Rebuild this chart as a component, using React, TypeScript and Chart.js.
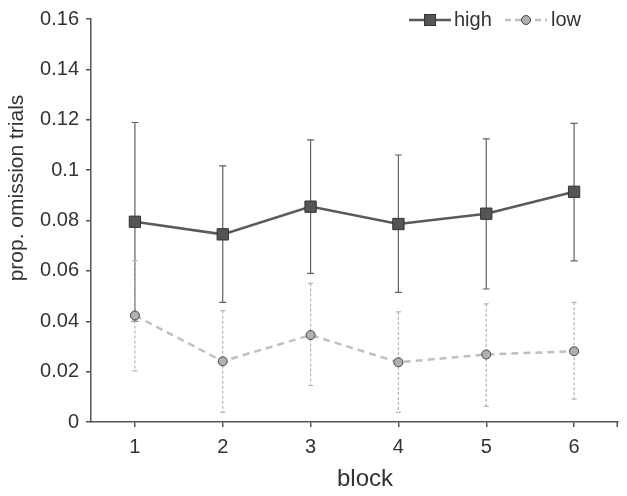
import React, { useEffect, useRef } from "react";
import { Chart, registerables } from "chart.js";

Chart.register(...registerables);

const blocks = ["1", "2", "3", "4", "5", "6"];
const highMean = [0.0795, 0.0745, 0.0855, 0.0786, 0.0827, 0.0914];
const highUpper = [0.1189, 0.1017, 0.112, 0.106, 0.1124, 0.1186];
const highLower = [0.040, 0.0475, 0.059, 0.0515, 0.0528, 0.064];
const lowMean = [0.0423, 0.0241, 0.0345, 0.0237, 0.0268, 0.0281];
const lowUpper = [0.0641, 0.0442, 0.055, 0.0437, 0.0469, 0.0475];
const lowLower = [0.0203, 0.0038, 0.0145, 0.0038, 0.0062, 0.0091];
const yTicks = [0, 0.02, 0.04, 0.06, 0.08, 0.1, 0.12, 0.14, 0.16];

const FONT = "'Liberation Sans', Arial, sans-serif";

export default function App() {
  const ref = useRef<HTMLCanvasElement | null>(null);

  useEffect(() => {
    if (!ref.current) return;

    const errorBars = {
      id: "errorBars",
      beforeDatasetsDraw(chart: any) {
        const ctx = chart.ctx;
        const ys = chart.scales.y;
        const sets = [
          { idx: 0, up: highUpper, lo: highLower, color: "#606060", dash: [] as number[], cap: 3.5 },
          { idx: 1, up: lowUpper, lo: lowLower, color: "#b5b5b5", dash: [3, 2], cap: 2.5 },
        ];
        ctx.save();
        for (const s of sets) {
          const meta = chart.getDatasetMeta(s.idx);
          ctx.strokeStyle = s.color;
          ctx.lineWidth = 1.2;
          meta.data.forEach((pt: any, j: number) => {
            const x = pt.x;
            const yu = ys.getPixelForValue(s.up[j]);
            const yl = ys.getPixelForValue(s.lo[j]);
            ctx.setLineDash(s.dash);
            ctx.beginPath();
            ctx.moveTo(x, yu);
            ctx.lineTo(x, yl);
            ctx.stroke();
            ctx.setLineDash([]);
            ctx.beginPath();
            ctx.moveTo(x - s.cap, yu);
            ctx.lineTo(x + s.cap, yu);
            ctx.moveTo(x - s.cap, yl);
            ctx.lineTo(x + s.cap, yl);
            ctx.stroke();
          });
        }
        ctx.restore();
      },
    };

    const extras = {
      id: "extras",
      afterDraw(chart: any) {
        const ctx = chart.ctx;
        const area = chart.chartArea;
        ctx.save();
        // right-end x tick
        ctx.strokeStyle = "#555";
        ctx.lineWidth = 1.5;
        ctx.beginPath();
        ctx.moveTo(area.right - 0.75, area.bottom);
        ctx.lineTo(area.right - 0.75, area.bottom + 5);
        ctx.stroke();

        // axis titles
        ctx.fillStyle = "#333";
        ctx.font = `24px ${FONT}`;
        ctx.textAlign = "center";
        ctx.textBaseline = "middle";
        ctx.fillText("block", 365, 479);
        ctx.font = `21px ${FONT}`;
        ctx.save();
        ctx.translate(17, 188);
        ctx.rotate(-Math.PI / 2);
        ctx.fillText("prop. omission trials", 0, 0);
        ctx.restore();

        // legend
        const ly = 20;
        ctx.lineWidth = 2.5;
        ctx.strokeStyle = "#5a5a5a";
        ctx.beginPath();
        ctx.moveTo(409, ly);
        ctx.lineTo(451, ly);
        ctx.stroke();
        ctx.fillStyle = "#555";
        ctx.strokeStyle = "#333";
        ctx.lineWidth = 1;
        ctx.fillRect(424.5, ly - 5.5, 11, 11);
        ctx.strokeRect(424.5, ly - 5.5, 11, 11);

        ctx.setLineDash([6, 4]);
        ctx.lineWidth = 2.5;
        ctx.strokeStyle = "#c0c0c0";
        ctx.beginPath();
        ctx.moveTo(505, ly);
        ctx.lineTo(547, ly);
        ctx.stroke();
        ctx.setLineDash([]);
        ctx.fillStyle = "#b0b0b0";
        ctx.strokeStyle = "#444";
        ctx.lineWidth = 1;
        ctx.beginPath();
        ctx.arc(526, ly, 4.5, 0, Math.PI * 2);
        ctx.fill();
        ctx.stroke();

        ctx.fillStyle = "#333";
        ctx.font = `20px ${FONT}`;
        ctx.textAlign = "left";
        ctx.textBaseline = "middle";
        ctx.fillText("high", 454, ly);
        ctx.fillText("low", 551, ly);
        ctx.restore();
      },
    };

    const chart = new Chart(ref.current, {
      type: "line",
      data: {
        labels: blocks,
        datasets: [
          {
            label: "high",
            data: highMean,
            borderColor: "#5a5a5a",
            borderWidth: 2.5,
            backgroundColor: "#555",
            pointStyle: "rect",
            pointRadius: 8,
            pointBorderColor: "#333",
            pointBorderWidth: 1,
            pointBackgroundColor: "#555",
            tension: 0,
          },
          {
            label: "low",
            data: lowMean,
            borderColor: "#c0c0c0",
            borderWidth: 2.5,
            borderDash: [7, 5],
            pointStyle: "circle",
            pointRadius: 4.5,
            pointBorderColor: "#444",
            pointBorderWidth: 1,
            pointBackgroundColor: "#b0b0b0",
            tension: 0,
          },
        ],
      },
      options: {
        responsive: true,
        maintainAspectRatio: false,
        animation: false,
        layout: { padding: { top: 12, right: 1, left: 0, bottom: 0 } },
        plugins: {
          legend: { display: false },
          tooltip: { enabled: false },
        },
        scales: {
          x: {
            type: "category",
            offset: true,
            grid: {
              display: true,
              drawOnChartArea: false,
              drawTicks: true,
              tickLength: 5,
              color: "#555",
              lineWidth: 1.5,
            },
            border: { display: true, color: "#555", width: 1.5 },
            ticks: {
              color: "#333",
              font: { size: 20, family: FONT },
              padding: 8,
              maxRotation: 0,
            },
            afterFit: (s: any) => {
              s.height = 74;
            },
          },
          y: {
            min: 0,
            max: 0.16,
            afterBuildTicks: (s: any) => {
              s.ticks = yTicks.map((v) => ({ value: v }));
            },
            grid: {
              display: true,
              drawOnChartArea: false,
              drawTicks: true,
              tickLength: 5,
              color: "#555",
              lineWidth: 1.5,
            },
            border: { display: true, color: "#555", width: 1.5 },
            ticks: {
              color: "#333",
              font: { size: 20, family: FONT },
              padding: 7,
              callback: (v: any) => String(parseFloat(Number(v).toFixed(2))),
            },
            afterFit: (s: any) => {
              s.width = 91;
            },
          },
        },
      },
      plugins: [errorBars, extras],
    });

    return () => chart.destroy();
  }, []);

  return (
    <div style={{ position: "fixed", left: 0, top: 0, width: 627, height: 496, background: "#fff" }}>
      <canvas ref={ref} />
    </div>
  );
}
